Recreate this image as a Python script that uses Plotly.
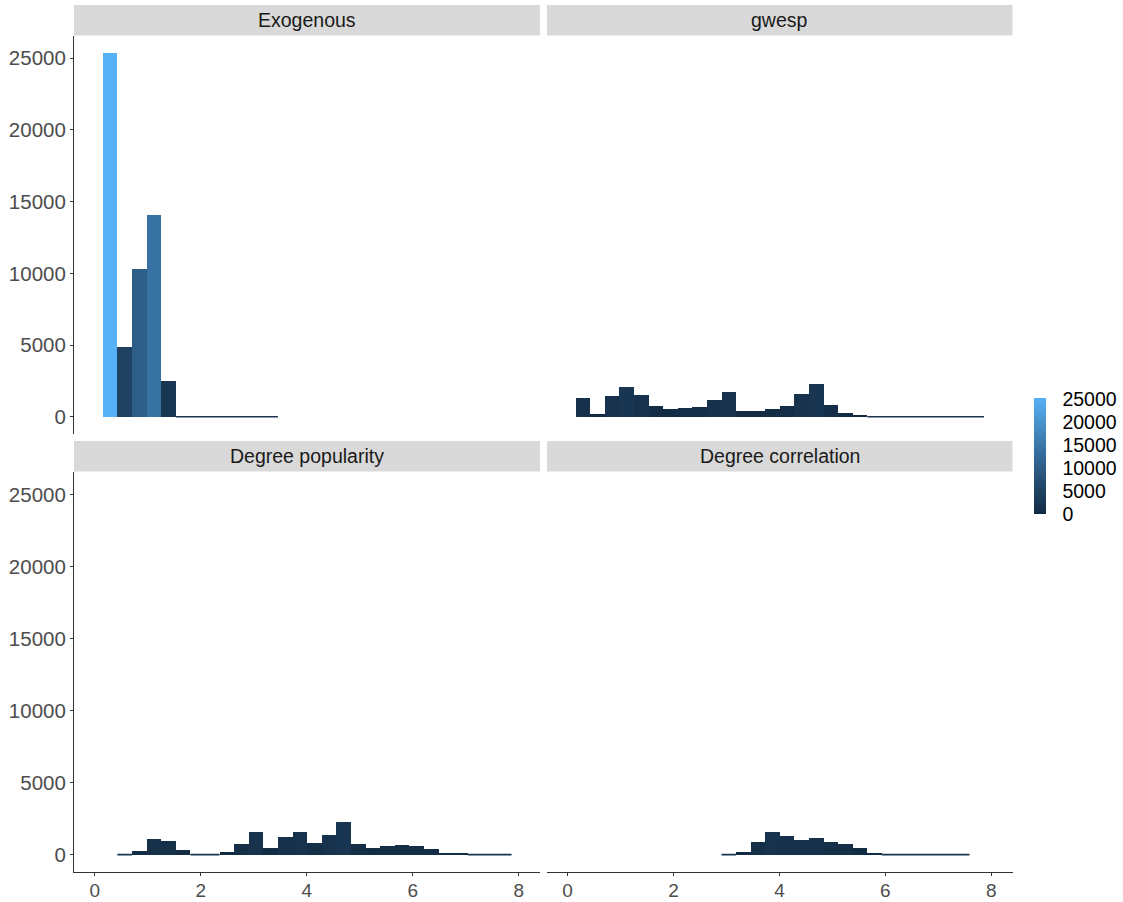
import plotly.graph_objects as go

# ---- data (histogram counts per bin) ----
panels = ["Exogenous", "gwesp", "Degree popularity", "Degree correlation"]
bin_start = 0.152
bin_width = 0.2754

exo_first_bin = 0
exo_counts = [25350, 4880, 10280, 14070, 2465, 0, 0, 0, 0, 0, 0, 0]

gwesp_first_bin = 0
gwesp_counts = [1280, 186, 1418, 2046, 1535, 721, 511, 581, 651, 1186, 1697, 372, 372,
                511, 721, 1558, 2255, 790, 232, 93, 0, 0, 0, 0, 0, 0, 0, 0]

pop_first_bin = 1
pop_counts = [0, 279, 1116, 977, 349, 0, 0, 209, 744, 1535, 488, 1256, 1535, 837, 1395,
              2232, 767, 488, 628, 698, 628, 395, 140, 47, 0, 0, 0]

corr_first_bin = 10
corr_counts = [0, 209, 907, 1535, 1279, 1046, 1186, 907, 767, 488, 140, 0, 0, 0, 0, 0, 0]

x_ticks = [0, 2, 4, 6, 8]
y_ticks = [0, 5000, 10000, 15000, 20000, 25000]
cbar_ticks = [0, 5000, 10000, 15000, 20000, 25000]

series = [(exo_first_bin, exo_counts), (gwesp_first_bin, gwesp_counts),
          (pop_first_bin, pop_counts), (corr_first_bin, corr_counts)]

# ---- style ----
W, H = 1123, 902
colorscale = [[0.0, "#132B43"], [0.25, "#22496D"], [0.5, "#336A98"],
              [0.75, "#448DC6"], [1.0, "#56B1F7"]]
cmax = max(max(c) for _, c in series)

# panel pixel boxes (left, right, top, bottom)
boxes = [(74, 540, 36, 434.3), (547, 1012.5, 36, 434.3),
         (74, 540, 472, 872.3), (547, 1012.5, 472, 872.3)]
strip_h = 30.5
xr = [-0.39, 8.4]
yr = [-1228, 26556]

# colorbar geometry (pixels)
cb_left, cb_top, cb_len, cb_thick = 1034, 398, 116, 12

fig = go.Figure()
layout = dict(width=W, height=H, margin=dict(l=0, r=0, t=0, b=0, autoexpand=False),
              paper_bgcolor="white", plot_bgcolor="white", showlegend=False,
              bargap=0, barmode="overlay",
              font=dict(family="Liberation Sans, Arial, sans-serif"))
shapes, annotations = [], []

for i, ((first, counts), name, (l, r, t, b)) in enumerate(zip(series, panels, boxes)):
    n = i + 1
    xa = "x" if n == 1 else f"x{n}"
    ya = "y" if n == 1 else f"y{n}"
    lefts = [bin_start + (first + k) * bin_width for k in range(len(counts))]
    centers = [e + bin_width / 2 for e in lefts]
    fig.add_trace(go.Bar(
        x=centers, y=counts, width=bin_width, xaxis=xa, yaxis=ya,
        marker=dict(color=counts, colorscale=colorscale, cmin=0, cmax=cmax,
                    line=dict(width=0),
                    showscale=(n == 1),
                    colorbar=dict(x=cb_left / W, xanchor="left",
                                  y=1 - (cb_top + cb_len / 2) / H, yanchor="middle",
                                  len=cb_len, lenmode="pixels", thickness=cb_thick,
                                  outlinewidth=0,
                                  tickvals=cbar_ticks, tickformat="d",
                                  ticks="outside", ticklen=13,
                                  tickcolor="rgba(255,255,255,0)", tickwidth=1,
                                  tickfont=dict(size=19.5, color="black"),
                                  xpad=0, ypad=0)),
        hoverinfo="skip"))
    # zero-count bins drawn as flat lines at y = 0
    lx, ly = [], []
    k = 0
    while k < len(counts):
        if counts[k] == 0:
            j = k
            while j < len(counts) and counts[j] == 0:
                j += 1
            lx += [lefts[k], lefts[k] + (j - k) * bin_width, None]
            ly += [0, 0, None]
            k = j
        else:
            k += 1
    if lx:
        fig.add_trace(go.Scatter(x=lx, y=ly, mode="lines", xaxis=xa, yaxis=ya,
                                 line=dict(color="#1B3550", width=1.6), hoverinfo="skip"))

    bottom_row = n >= 3
    left_col = n in (1, 3)
    xkey = "xaxis" if n == 1 else f"xaxis{n}"
    ykey = "yaxis" if n == 1 else f"yaxis{n}"
    layout[xkey] = dict(domain=[l / W, r / W], range=xr, anchor=ya, automargin=False,
                        showgrid=False, zeroline=False,
                        showline=bottom_row, linecolor="#333333", linewidth=1.1,
                        ticks="outside" if bottom_row else "", ticklen=3, tickcolor="#333333",
                        tickvals=x_ticks, tickformat="d", showticklabels=bottom_row,
                        ticklabelstandoff=-2,
                        tickfont=dict(size=19, color="#4D4D4D"))
    layout[ykey] = dict(domain=[1 - b / H, 1 - t / H], range=yr, anchor=xa, automargin=False,
                        showgrid=False, zeroline=False,
                        showline=left_col, linecolor="#333333", linewidth=1.1,
                        ticks="outside" if left_col else "", ticklen=3, tickcolor="#333333",
                        tickvals=y_ticks, tickformat="d", showticklabels=left_col,
                        tickfont=dict(size=20.5, color="#4D4D4D"))
    # strip
    st = t - strip_h - 0.5
    shapes.append(dict(type="rect", xref="paper", yref="paper",
                       x0=l / W, x1=r / W, y0=1 - (t - 0.5) / H, y1=1 - st / H,
                       fillcolor="#D9D9D9", line=dict(width=0), layer="below"))
    annotations.append(dict(text=name, xref="paper", yref="paper",
                            x=(l + r) / 2 / W, y=1 - (st + strip_h / 2) / H,
                            xanchor="center", yanchor="middle", showarrow=False,
                            font=dict(size=19.5, color="#1A1A1A")))

# white tick marks on both sides of the colour bar (ggplot colourbar style)
for v in cbar_ticks:
    ypx = cb_top + cb_len - v / cmax * cb_len
    for x0, x1 in ((cb_left, cb_left + 2.5), (cb_left + cb_thick - 2.5, cb_left + cb_thick)):
        shapes.append(dict(type="line", xref="paper", yref="paper",
                           x0=x0 / W, x1=x1 / W, y0=1 - ypx / H, y1=1 - ypx / H,
                           line=dict(color="white", width=1), layer="above"))

layout["shapes"] = shapes
layout["annotations"] = annotations
fig.update_layout(**layout)
fig.write_html("out.html")
